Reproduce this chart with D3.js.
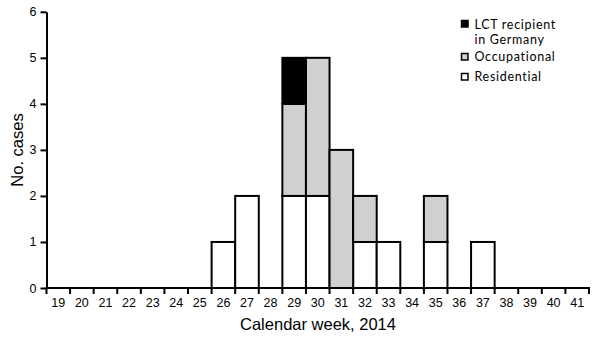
<!DOCTYPE html>
<html>
<head>
<meta charset="utf-8">
<script src="https://cdn.jsdelivr.net/npm/d3@7"></script>
<style>
  html, body { margin: 0; padding: 0; background: #fff; }
  svg { display: block; }
</style>
</head>
<body>
<svg id="chart" width="600" height="343"></svg>
<script>
// Calendar weeks shown on the x axis
const weeks = d3.range(19, 42);
// Cases per week, by exposure type
const caseWeeks   = [26, 27, 29, 30, 31, 32, 33, 35, 37];
const residential = [1, 2, 2, 2, 0, 1, 1, 1, 1];
const occupational = [0, 0, 2, 3, 3, 1, 0, 1, 0];
const lctRecipient = [0, 0, 1, 0, 0, 0, 0, 0, 0];
const seriesKeys = ["residential", "occupational", "lct"];
const seriesLabels = [["LCT recipient", "in Germany"], ["Occupational"], ["Residential"]];
const yTicks = [0, 1, 2, 3, 4, 5, 6];

const colors = { residential: "#ffffff", occupational: "#d0d0d0", lct: "#000000" };

const rows = caseWeeks.map((w, i) => ({
  week: w,
  residential: residential[i],
  occupational: occupational[i],
  lct: lctRecipient[i]
}));

const svg = d3.select("#chart");
const x0 = 46.5, x1 = 589, yBottom = 288, yTop = 11.8;

const x = d3.scaleBand().domain(weeks).range([x0, x1]).padding(0);
const y = d3.scaleLinear().domain([0, 6]).range([yBottom, yTop]);

const stacked = d3.stack().keys(seriesKeys)(rows);

// stacked bars
const g = svg.append("g");
stacked.forEach(layer => {
  g.selectAll(null)
    .data(layer.filter(d => d[1] > d[0]))
    .join("rect")
    .attr("x", d => x(d.data.week))
    .attr("width", x.bandwidth())
    .attr("y", d => y(d[1]))
    .attr("height", d => y(d[0]) - y(d[1]))
    .attr("fill", colors[layer.key])
    .attr("stroke", "#000")
    .attr("stroke-width", 2);
});

// y axis
const yAxis = svg.append("g")
  .attr("transform", `translate(${x0},0)`)
  .call(d3.axisLeft(y).tickValues(yTicks).tickFormat(d3.format("d"))
    .tickSize(6).tickPadding(4).tickSizeOuter(0));
yAxis.select(".domain").attr("stroke-width", 2);
yAxis.selectAll(".tick line").attr("stroke-width", 2);
yAxis.selectAll(".tick text")
  .attr("font-family", "Liberation Sans, Arial, sans-serif")
  .attr("font-size", 12.5)
  .attr("fill", "#000");

// x axis: ticks at week boundaries, labels centred in each week
const boundaries = weeks.map(w => x(w)).concat([x1]);
const xAxis = svg.append("g");
xAxis.append("line")
  .attr("x1", x0 - 1).attr("x2", x1 + 1)
  .attr("y1", yBottom).attr("y2", yBottom)
  .attr("stroke", "#000").attr("stroke-width", 2);
xAxis.selectAll(".xt")
  .data(boundaries)
  .join("line")
  .attr("x1", d => d).attr("x2", d => d)
  .attr("y1", yBottom).attr("y2", yBottom + 6)
  .attr("stroke", "#000").attr("stroke-width", 2);
xAxis.selectAll(".xl")
  .data(weeks)
  .join("text")
  .attr("x", d => x(d) + x.bandwidth() / 2)
  .attr("y", 307)
  .attr("text-anchor", "middle")
  .attr("font-family", "Liberation Sans, Arial, sans-serif")
  .attr("font-size", 12.5)
  .text(d => d);

// axis titles
svg.append("text")
  .attr("x", 318).attr("y", 330)
  .attr("text-anchor", "middle")
  .attr("font-family", "Liberation Sans, Arial, sans-serif")
  .attr("font-size", 16.5)
  .text("Calendar week, 2014");

svg.append("text")
  .attr("transform", "translate(23,150) rotate(-90)")
  .attr("text-anchor", "middle")
  .attr("font-family", "Liberation Sans, Arial, sans-serif")
  .attr("font-size", 16.5)
  .text("No. cases");

// legend (multi-line labels drawn as one text with tspans)
const legendKeys = ["lct", "occupational", "residential"];
const legendSquareY = [20.5, 53.5, 73.5];
const legendTextY = [28.5, 61, 81];
const legend = svg.append("g");
legendKeys.forEach((k, i) => {
  legend.append("rect")
    .attr("x", 461.5).attr("y", legendSquareY[i])
    .attr("width", 6.5).attr("height", 6.5)
    .attr("fill", colors[k])
    .attr("stroke", "#000").attr("stroke-width", 1.5);
  const t = legend.append("text")
    .attr("x", 474.5).attr("y", legendTextY[i])
    .attr("font-family", "Lato, 'Open Sans', sans-serif")
    .attr("font-size", 12.5)
    .attr("letter-spacing", 0.7);
  seriesLabels[i].forEach((line, j) => {
    t.append("tspan")
      .attr("x", 474.5)
      .attr("dy", j === 0 ? 0 : 15.2)
      .text(line);
  });
});
</script>
</body>
</html>
